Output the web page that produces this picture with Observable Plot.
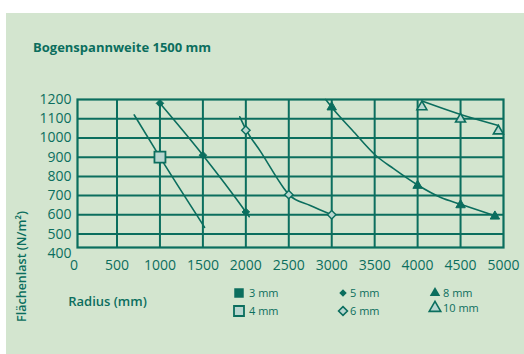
<!DOCTYPE html>
<html>
<head>
<meta charset="utf-8">
<script src="https://cdn.jsdelivr.net/npm/d3@7"></script>
<script src="https://cdn.jsdelivr.net/npm/@observablehq/plot@0.6"></script>
<style>
  body { margin: 0; background: #fff; font-family: "Open Sans", sans-serif; }
  #panel { position: absolute; left: 6px; top: 13px; width: 518px; height: 341px; background: #d3e5cf; color: #0b6e5e; overflow: hidden; }
  #title { position: absolute; left: 27px; top: 26px; font-weight: 700; font-size: 13px; line-height: 16px; white-space: nowrap; }
  #chart { position: absolute; left: 0; top: 60px; }
  #legend { position: absolute; left: 0; top: 0; width: 100%; height: 100%; pointer-events: none; }
  .sw { position: absolute; width: 16px; height: 16px; overflow: visible; }
  .lab { position: absolute; font-size: 11px; line-height: 14px; white-space: nowrap; }
</style>
</head>
<body>
<div id="panel">
  <div id="title">Bogenspannweite 1500 mm</div>
  <div id="chart"></div>
  <div id="legend"></div>
</div>
<script>
// Tick values
const xTicks = [0, 500, 1000, 1500, 2000, 2500, 3000, 3500, 4000, 4500, 5000];
const yTicks = [400, 500, 600, 700, 800, 900, 1000, 1100, 1200];
const xGrid = [500, 1000, 1500, 2000, 2500, 3000, 3500, 4000, 4500];
const yGrid = [500, 600, 700, 800, 900, 1000, 1100];

// Load curves (radius in mm, surface load in N/m²) per sheet thickness
const curve4X = [700, 1000, 1520];
const curve4Y = [1120, 900, 535];
const curve5X = [1000, 1500, 2000, 2040];
const curve5Y = [1180, 910, 615, 590];
const curve6X = [1930, 2000, 2170, 2440, 2500, 2750, 3000];
const curve6Y = [1110, 1045, 930, 740, 705, 648, 600];
const curve8X = [2930, 3000, 3240, 3510, 3720, 4000, 4270, 4500, 4900];
const curve8Y = [1200, 1160, 1040, 910, 840, 755, 690, 655, 595];
const curve10X = [4050, 4500, 4940];
const curve10Y = [1192, 1122, 1065];

// Measured points
const pts4X = [1000];
const pts4Y = [900];
const pts5X = [1000, 1500, 2000];
const pts5Y = [1180, 910, 615];
const pts6X = [2000, 2500, 3000];
const pts6Y = [1040, 705, 600];
const pts8X = [3000, 4000, 4500, 4900];
const pts8Y = [1160, 752, 651, 592];
const pts10X = [4050, 4500, 4940];
const pts10Y = [1162, 1098, 1036];

// Legend entries
const legendLabels = ["3 mm", "4 mm", "5 mm", "6 mm", "8 mm", "10 mm"];

const teal = "#0b6e5e";
const light = "#b9d7d0";

const zip = (xs, ys, s) => xs.map((x, i) => ({x, y: ys[i], s}));
const curves = [
  ...zip(curve4X, curve4Y, "4"),
  ...zip(curve5X, curve5Y, "5"),
  ...zip(curve6X, curve6Y, "6"),
  ...zip(curve8X, curve8Y, "8"),
  ...zip(curve10X, curve10Y, "10")
];

const chart = Plot.plot({
  width: 518,
  height: 281,
  marginLeft: 71,
  marginRight: 21,
  marginTop: 26,
  marginBottom: 107,
  style: { background: "transparent", fontFamily: "Open Sans, sans-serif", color: teal, overflow: "visible" },
  x: { domain: [40, 5000], axis: null },
  y: { domain: [430, 1200], axis: null },
  marks: [
    Plot.ruleX(xGrid, { stroke: teal, strokeWidth: 2 }),
    Plot.ruleY(yGrid, { stroke: teal, strokeWidth: 2 }),
    Plot.frame({ stroke: teal, strokeWidth: 2.2 }),
    Plot.line(curves, { x: "x", y: "y", z: "s", stroke: teal, strokeWidth: 1.6, curve: "monotone-x" }),
    Plot.dot(zip(pts4X, pts4Y), { x: "x", y: "y", symbol: "square", r: 6.2, fill: light, stroke: teal, strokeWidth: 1.8 }),
    Plot.dot(zip(pts5X, pts5Y), { x: "x", y: "y", symbol: "diamond2", r: 3.4, fill: teal, stroke: teal, strokeWidth: 1 }),
    Plot.dot(zip(pts6X, pts6Y), { x: "x", y: "y", symbol: "diamond2", r: 3.8, fill: light, stroke: teal, strokeWidth: 1.4 }),
    Plot.dot(zip(pts8X, pts8Y), { x: "x", y: "y", symbol: "triangle", r: 3.5, fill: teal, stroke: teal, strokeWidth: 1 }),
    Plot.dot(zip(pts10X, pts10Y), { x: "x", y: "y", symbol: "triangle", r: 3.7, fill: light, stroke: teal, strokeWidth: 1.6 }),
    Plot.text(xTicks, { x: d => d, text: d => String(d), frameAnchor: "bottom", dy: 22, fontSize: 14, fill: teal }),
    Plot.text(yTicks, { y: d => d, text: d => String(d), frameAnchor: "left", dx: -6, textAnchor: "end", fontSize: 14, fill: teal }),
    Plot.text(["Radius (mm)"], { frameAnchor: "bottom-left", dx: 30, dy: 58, textAnchor: "middle", fontSize: 13, fontWeight: 600, fill: teal }),
    Plot.text(["Flächenlast (N/m²)"], { frameAnchor: "bottom-left", dx: -52, dy: 19, rotate: -90, textAnchor: "middle", fontSize: 12.5, fontWeight: 600, fill: teal })
  ]
});
document.getElementById("chart").append(chart);

// Legend: three columns (square, diamond, triangle), filled above, open below
const legend = document.getElementById("legend");
const swatches = [
  { type: d3.symbolSquare, size: 90, fill: teal, sw: 0 },
  { type: d3.symbolSquare, size: 100, fill: light, sw: 1.8 },
  { type: d3.symbolDiamond2, size: 36, fill: teal, sw: 0 },
  { type: d3.symbolDiamond2, size: 50, fill: light, sw: 1.6 },
  { type: d3.symbolTriangle, size: 48, fill: teal, sw: 0 },
  { type: d3.symbolTriangle, size: 58, fill: light, sw: 1.6 }
];
const colIcon = [232.5, 337, 429];
const colText = [243, 344, 437];
const rowY = [279.5, 297.5];
legendLabels.forEach((label, i) => {
  const col = Math.floor(i / 2), row = i % 2;
  const cy = rowY[row] - (col === 2 && row === 1 ? 3 : 0);
  const s = swatches[i];
  const svg = d3.create("svg").attr("class", "sw")
    .attr("width", 16).attr("height", 16)
    .style("left", (colIcon[col] - 8) + "px").style("top", (cy - 8) + "px");
  svg.append("path")
    .attr("transform", "translate(8,8)")
    .attr("d", d3.symbol(s.type, s.size)())
    .attr("fill", s.fill)
    .attr("stroke", s.sw ? teal : "none")
    .attr("stroke-width", s.sw);
  legend.append(svg.node());
  const t = document.createElement("div");
  t.className = "lab";
  t.textContent = label;
  t.style.left = colText[col] + "px";
  t.style.top = (cy - 7 + 0.5) + "px";
  legend.append(t);
});
</script>
</body>
</html>
